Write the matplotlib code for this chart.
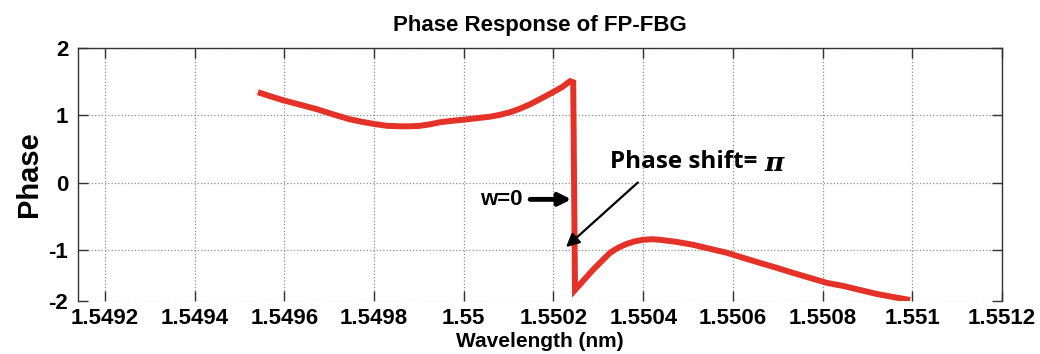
#!/usr/bin/env python3
# -*- coding: utf-8 -*-
"""Phase response of FP-FBG, redrawn in matplotlib (MATLAB-like look)."""
import numpy as np
import matplotlib
matplotlib.use('Agg')
import matplotlib.pyplot as plt
from matplotlib.patches import Rectangle

# ── data ──────────────────────────────────────────────────────────────────
wavelength = [1.549541, 1.549568, 1.549597, 1.549635, 1.549673, 1.549708,
              1.549746, 1.549773, 1.549798, 1.549829, 1.549858, 1.549880,
              1.549902, 1.549925, 1.549947, 1.549974, 1.549998, 1.550027,
              1.550058, 1.550081, 1.550103, 1.550125, 1.550148, 1.550174,
              1.550199, 1.550219, 1.550237, 1.550244,
              1.550248, 1.550268, 1.550288, 1.550308, 1.550326, 1.550344,
              1.550364, 1.550382, 1.550400, 1.550420, 1.550437, 1.550473,
              1.550511, 1.550549, 1.550587, 1.550623, 1.550660, 1.550698,
              1.550734, 1.550772, 1.550810, 1.550846, 1.550883, 1.550921,
              1.550957, 1.550995]
phase = [1.343, 1.284, 1.224, 1.157, 1.090, 1.015,
         0.940, 0.903, 0.873, 0.843, 0.836, 0.836,
         0.843, 0.866, 0.896, 0.918, 0.933, 0.955,
         0.978, 1.007, 1.045, 1.097, 1.164, 1.254,
         1.343, 1.418, 1.507, 1.490,
         -1.784, -1.588, -1.392, -1.216, -1.059, -0.970,
         -0.910, -0.873, -0.851, -0.843, -0.851, -0.881,
         -0.925, -0.985, -1.059, -1.157, -1.255, -1.353,
         -1.451, -1.549, -1.647, -1.706, -1.784, -1.863,
         -1.922, -1.980]

xticks = [1.5492, 1.5494, 1.5496, 1.5498, 1.5500, 1.5502,
          1.5504, 1.5506, 1.5508, 1.5510, 1.5512]
xticklabels = ["1.5492", "1.5494", "1.5496", "1.5498", "1.55", "1.5502",
               "1.5504", "1.5506", "1.5508", "1.551", "1.5512"]
yticks = [-2, -1, 0, 1, 2]
yticklabels = ["-2", "-1", "0", "1", "2"]

RED = '#E53228'

plt.rcParams['font.family'] = ['Liberation Sans', 'DejaVu Sans']
plt.rcParams['font.weight'] = 'bold'


# the original y axis is squeezed below -1 (-1 .. -2 is shorter than a unit)
def fwd(y):
    y = np.asarray(y, dtype=float)
    return np.where(y >= -1, y, -1 + (y + 1) * 51.0 / 67.0)


def inv(t):
    t = np.asarray(t, dtype=float)
    return np.where(t >= -1, t, -1 + (t + 1) * 67.0 / 51.0)


fig = plt.figure(figsize=(10.4, 3.54), dpi=100)
ax = fig.add_axes([0.075, 0.1497, 0.8885, 0.7147])
ax.set_yscale('function', functions=(fwd, inv))

ax.plot(wavelength, phase, color=RED, lw=4.3, zorder=3,
        solid_joinstyle='miter', solid_capstyle='butt')

ax.set_xlim(1.54914, 1.5512)
ax.set_ylim(-2, 2)
ax.set_xticks(xticks)
ax.set_xticklabels(xticklabels, fontsize=16, fontweight='bold')
ax.set_yticks(yticks)
ax.set_yticklabels(yticklabels, fontsize=16, fontweight='bold')
ax.minorticks_off()
ax.tick_params(direction='in', length=7, width=1, color='#333333',
               top=True, right=True, pad=7)
ax.tick_params(axis='x', pad=5)

ax.grid(True, linestyle=':', color='#8c8c8c', lw=0.9)
ax.set_axisbelow(True)
for side in ('left', 'right', 'top'):
    ax.spines[side].set_color('#333333')
    ax.spines[side].set_linewidth(1.0)
ax.spines['bottom'].set_visible(False)

ax.set_title("Phase Response of FP-FBG", fontsize=16, fontweight='bold', pad=12)
ax.set_xlabel("Wavelength (nm)", fontsize=15, fontweight='bold', labelpad=2)
ax.set_ylabel("Phase", fontsize=21, fontweight='bold', labelpad=4)

# ── white boxes behind the annotations (hide grid like the original) ──────
fig.patches.append(Rectangle((590 / 1040, 1 - 216 / 354), 262 / 1040, 96 / 354,
                             transform=fig.transFigure, facecolor='white',
                             edgecolor='none', zorder=1))
fig.patches.append(Rectangle((545 / 1040, 1 - 233 / 354), 45 / 1040, 46 / 354,
                             transform=fig.transFigure, facecolor='white',
                             edgecolor='none', zorder=1))
ax.set_zorder(2)
ax.patch.set_alpha(0)

# ── annotations ────────────────────────────────────────────────────────────
ax.text(1.550130, -0.25, "w=0", fontsize=16, fontweight='bold',
        ha='right', va='center', zorder=5)
ax.annotate("", xy=(1.550240, -0.25), xytext=(1.550148, -0.25),
            arrowprops=dict(arrowstyle='-|>', color='black', lw=3.5,
                            mutation_scale=18, shrinkA=0, shrinkB=0),
            zorder=5)

ax.text(0.587, 0.541, "Phase shift=", transform=fig.transFigure,
        fontsize=17.5, fontweight='bold', family='Open Sans',
        ha='left', va='center', zorder=5)
ax.text(0.735, 0.538, "π", transform=fig.transFigure,
        fontsize=19, fontweight='bold', style='italic', family='DejaVu Serif',
        ha='left', va='center', zorder=5)
ax.annotate("", xy=(1.550228, -0.96), xytext=(1.550388, 0.0),
            arrowprops=dict(arrowstyle='-|>', color='black', lw=1.6,
                            mutation_scale=20, shrinkA=0, shrinkB=0),
            zorder=5)

fig.savefig("out.png", dpi=100)
